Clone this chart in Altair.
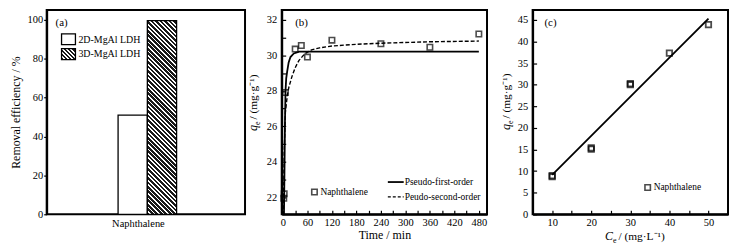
import altair as alt
import pandas as pd

FONT = "Liberation Serif"

# ---------------- data ----------------
# (a) removal efficiency
a_series = ["2D-MgAl LDH", "3D-MgAl LDH"]
a_removal = [51.0, 99.5]
a_yticks = [0, 20, 40, 60, 80, 100]

# (b) kinetics
b_time = [2, 3, 6, 30, 45, 60, 120, 240, 360, 480]
b_qt = [21.95, 22.2, 27.9, 30.35, 30.55, 29.9, 30.85, 30.65, 30.45, 31.2]
pfo_time = [2.5, 4, 5, 6.3, 8, 10.4, 14, 18.4, 26.6, 40, 480]
pfo_qt = [21.0, 24.0, 26.3, 28.0, 28.7, 29.1, 29.6, 29.9, 30.1, 30.2, 30.2]
pso_time = [1, 3, 6, 11, 14.5, 22, 30, 39, 54, 70, 90, 120, 180, 240, 360, 480]
pso_qt = [21.0, 24.5, 26.8, 27.8, 28.2, 28.8, 29.3, 29.7, 30.1, 30.3, 30.42, 30.52,
          30.62, 30.68, 30.76, 30.8]
b_xticks = [0, 60, 120, 180, 240, 300, 360, 420, 480]
b_xminor = [0, 30, 60, 90, 120, 150, 180, 210, 240, 270, 300, 330, 360, 390, 420, 450, 480]
b_yticks = [22, 24, 26, 28, 30, 32]
b_yminor = [22, 23, 24, 25, 26, 27, 28, 29, 30, 31, 32]

# (c) isotherm
c_ce = [10, 10, 20, 20, 30, 30, 40, 50]
c_qe = [8.7, 8.95, 15.1, 15.35, 30.0, 30.25, 37.3, 43.9]
fit_ce = [10, 50]
fit_qe = [9.1, 45.3]
c_xticks = [10, 20, 30, 40, 50]
c_xminor = [10, 15, 20, 25, 30, 35, 40, 45, 50]
c_yticks = [0, 5, 10, 15, 20, 25, 30, 35, 40, 45]

H = 206
WA, WB, WC = 200, 207, 197
one = pd.DataFrame({"k": [0]})


def hatch(w, h, period=3.2, dark=0.6, ink="#1a1a1a"):
    t = (w + h) / (w * w + h * h)
    n = max(1, int(round((w + h) / (2 ** 0.5) / period)))
    stops = []
    for i in range(n):
        a = i / n
        b = (i + dark) / n
        c = (i + 1) / n
        stops += [{"offset": a, "color": ink}, {"offset": b, "color": ink},
                  {"offset": b, "color": "white"}, {"offset": c, "color": "white"}]
    return {"gradient": "linear", "x1": 0, "y1": 1, "x2": t * w, "y2": 1 - t * h,
            "stops": stops}


def txt(s, x, y, size=10.0, align="left", baseline="middle", **kw):
    return alt.Chart(one).mark_text(text=s, font=FONT, fontSize=size, color="black",
                                    align=align, baseline=baseline, **kw).encode(
        x=alt.value(x), y=alt.value(y))


def square(x, y):
    return alt.Chart(one).mark_point(shape="square", filled=False, size=30,
                                     strokeWidth=1.6, color="black").encode(
        x=alt.value(x), y=alt.value(y))


def ytitle(x, ybase, sym, rest):
    return [
        txt(sym, x, ybase, 12, baseline="alphabetic", angle=270, fontStyle="italic"),
        txt("e", x + 3, ybase - 6, 8, baseline="alphabetic", angle=270),
        txt(rest, x, ybase - 11.5, 11.5, baseline="alphabetic", angle=270),
    ]


# ---------------- panel (a) ----------------
df_a = pd.DataFrame({"series": a_series, "removal": a_removal})
bar_w = 29.5
bar_h = H * a_removal[1] / 105
xa = alt.X("series:N", sort=a_series,
           scale=alt.Scale(domain=a_series, range=[72, 131], paddingInner=0, paddingOuter=0),
           axis=alt.Axis(labels=False, ticks=False, domain=False, title="Naphthalene",
                         titlePadding=4, titleX=92, titleFontSize=10.5))
ya = alt.Y("removal:Q", scale=alt.Scale(domain=[0, 105], nice=False),
           axis=alt.Axis(values=a_yticks, title="Removal efficiency / %", tickSize=3,
                         labelPadding=1, titlePadding=4.5))
bars = alt.Chart(df_a).mark_bar(stroke="black", strokeWidth=1.3).encode(
    x=xa, y=ya,
    fill=alt.condition(alt.datum.series == a_series[1], alt.value(hatch(bar_w, bar_h)),
                       alt.value("white")))
leg_a = [
    alt.Chart(one).mark_rect(fill="white", stroke="black", strokeWidth=1.3).encode(
        x=alt.value(15), x2=alt.value(29), y=alt.value(24), y2=alt.value(35)),
    alt.Chart(one).mark_rect(fill=hatch(14, 11), stroke="black", strokeWidth=1.3).encode(
        x=alt.value(15), x2=alt.value(29), y=alt.value(39), y2=alt.value(50)),
    txt(a_series[0], 32, 30, 10),
    txt(a_series[1], 32, 44.5, 10),
    txt("(a)", 15, 13, 11, align="center"),
]
panel_a = alt.layer(bars, *leg_a).properties(width=WA, height=H)

# ---------------- panel (b) ----------------
df_b = pd.DataFrame({"time": b_time, "qt": b_qt})
df_pfo = pd.DataFrame({"time": pfo_time, "qt": pfo_qt})
df_pso = pd.DataFrame({"time": pso_time, "qt": pso_qt})
sx_b = alt.Scale(domain=[-3, 500], nice=False, zero=False)
sy_b = alt.Scale(domain=[21.05, 32.55], nice=False, zero=False)

pts_b = alt.Chart(df_b).mark_point(shape="square", filled=False, size=30, strokeWidth=1.6,
                                   color="black").encode(
    x=alt.X("time:Q", scale=sx_b,
            axis=alt.Axis(values=b_xticks, ticks=False, labelPadding=3,
                          title="Time / min", titlePadding=2)),
    y=alt.Y("qt:Q", scale=sy_b,
            axis=alt.Axis(values=b_yticks, ticks=False, labelPadding=5, title=None)))
ticks_b = alt.Chart(df_b).mark_point(opacity=0).encode(
    x=alt.X("time:Q", scale=sx_b,
            axis=alt.Axis(values=b_xminor, orient="bottom", offset=-4, tickSize=4,
                          labels=False, domain=False, title=None)),
    y=alt.Y("qt:Q", scale=sy_b,
            axis=alt.Axis(values=b_yminor, orient="left", offset=-4, tickSize=4,
                          labels=False, domain=False, title=None)))
pfo = alt.Chart(df_pfo).mark_line(color="black", strokeWidth=1.8, clip=True).encode(
    x=alt.X("time:Q", scale=sx_b, axis=None), y=alt.Y("qt:Q", scale=sy_b, axis=None))
pso = alt.Chart(df_pso).mark_line(color="black", strokeWidth=1.4, strokeDash=[4, 2],
                                  clip=True).encode(
    x=alt.X("time:Q", scale=sx_b, axis=None), y=alt.Y("qt:Q", scale=sy_b, axis=None))
leg_b = [
    alt.Chart(one).mark_rule(color="black", strokeWidth=1.8).encode(
        x=alt.value(107), x2=alt.value(123), y=alt.value(173.5)),
    alt.Chart(one).mark_rule(color="black", strokeWidth=1.3, strokeDash=[3, 2]).encode(
        x=alt.value(107), x2=alt.value(123), y=alt.value(188.5)),
    txt("Pseudo-first-order", 124, 173.5, 9.5),
    txt("Peudo-second-order", 124, 188.5, 9.5),
    square(33, 183.5),
    txt("Naphthalene", 39, 183.5, 9.5),
    txt("(b)", 20, 13, 11, align="center"),
] + ytitle(-25, 122, "q", " / (mg·g⁻¹)")
panel_b = alt.layer(pso, pfo, pts_b, ticks_b, *leg_b).resolve_axis(
    x="independent", y="independent").properties(width=WB, height=H)

# ---------------- panel (c) ----------------
df_c = pd.DataFrame({"ce": c_ce, "qe": c_qe})
df_fit = pd.DataFrame({"ce": fit_ce, "qe": fit_qe})
sx_c = alt.Scale(domain=[5, 55], nice=False, zero=False)
sy_c = alt.Scale(domain=[0, 47.3], nice=False)
pts_c = alt.Chart(df_c).mark_point(shape="square", filled=False, size=30, strokeWidth=1.8,
                                   color="black").encode(
    x=alt.X("ce:Q", scale=sx_c,
            axis=alt.Axis(values=c_xticks, ticks=False, labelPadding=3, title=None)),
    y=alt.Y("qe:Q", scale=sy_c,
            axis=alt.Axis(values=c_yticks, ticks=False, labelPadding=5, title=None)))
ticks_c = alt.Chart(df_c).mark_point(opacity=0).encode(
    x=alt.X("ce:Q", scale=sx_c,
            axis=alt.Axis(values=c_xminor, orient="bottom", offset=-4, tickSize=4,
                          labels=False, domain=False, title=None)),
    y=alt.Y("qe:Q", scale=sy_c,
            axis=alt.Axis(values=c_yticks, orient="left", offset=-4, tickSize=4,
                          labels=False, domain=False, title=None)))
fit = alt.Chart(df_fit).mark_line(color="black", strokeWidth=1.8).encode(
    x=alt.X("ce:Q", scale=sx_c, axis=None), y=alt.Y("qe:Q", scale=sy_c, axis=None))
leg_c = [
    square(116, 179),
    txt("Naphthalene", 122, 179, 9.5),
    txt("(c)", 18, 13.5, 11, align="center"),
    txt("C", 73, 232, 12, baseline="alphabetic", fontStyle="italic"),
    txt("e", 81, 235, 8, baseline="alphabetic"),
    txt(" / (mg·L⁻¹)", 86.5, 232, 11.5, baseline="alphabetic"),
] + ytitle(-22.5, 121, "q", " / (mg·g⁻¹)")
panel_c = alt.layer(fit, pts_c, ticks_c, *leg_c).resolve_axis(
    x="independent", y="independent").properties(width=WC, height=H)

left = alt.hconcat(panel_a, panel_b, spacing=0)
chart = alt.hconcat(left, panel_c, spacing=11).properties(padding=0).configure_view(
    stroke="black", strokeWidth=2
).configure_axis(
    labelFont=FONT, titleFont=FONT, labelFontSize=10.5, titleFontSize=12,
    titleFontWeight="normal", labelColor="black", titleColor="black",
    domainColor="black", domainWidth=2, tickColor="black", tickWidth=1.2, grid=False
)

chart.save("out.html", embed_options={"renderer": "svg", "actions": False})
